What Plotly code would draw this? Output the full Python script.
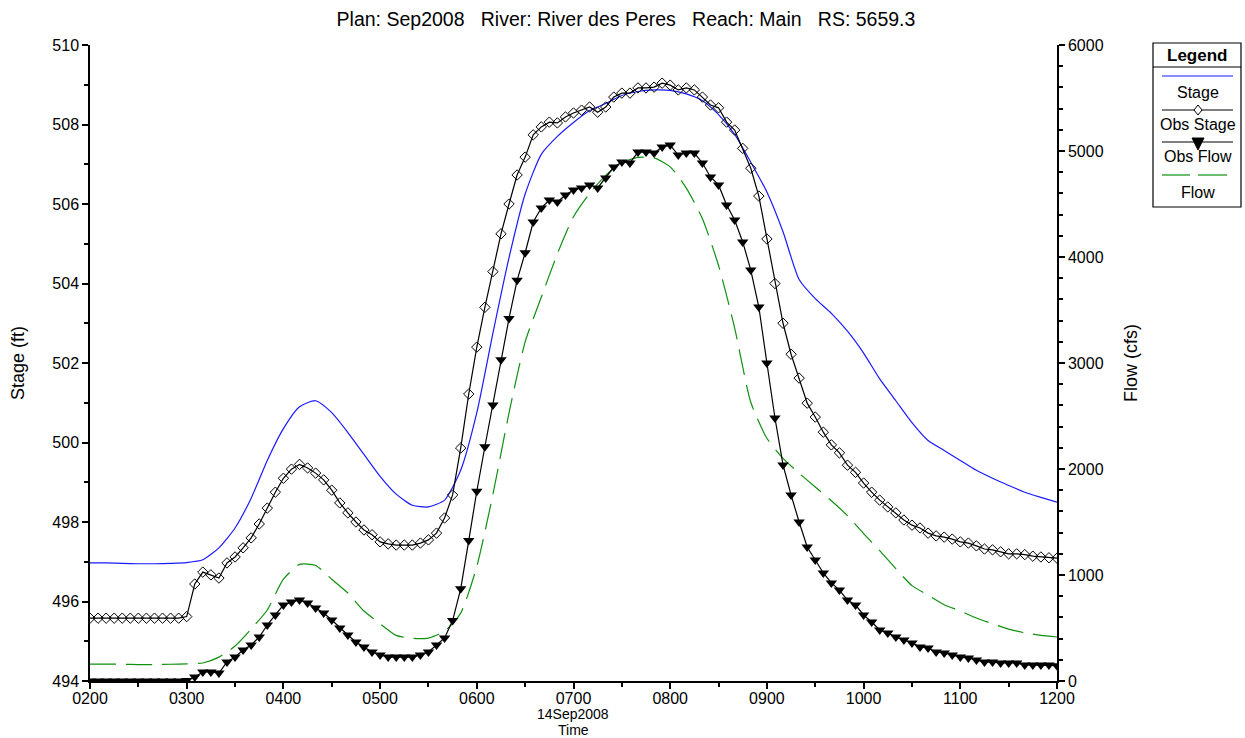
import pandas as pd
import plotly.graph_objects as go

# ---------------- data ----------------
obs_times = pd.date_range("2008-09-14 02:00", "2008-09-14 12:00", freq="5min")
sim_times = pd.date_range("2008-09-14 02:00", "2008-09-14 12:00", freq="10min")

obs_stage = [
    495.58, 495.58, 495.58, 495.58, 495.58, 495.58, 495.58, 495.58, 495.58, 495.58,
    495.58, 495.58, 495.62, 496.44, 496.74, 496.67, 496.59, 496.97, 497.12, 497.35,
    497.60, 497.95, 498.35, 498.75, 499.10, 499.33, 499.45, 499.36, 499.23, 499.06,
    498.80, 498.48, 498.23, 498.00, 497.80, 497.68, 497.50, 497.45, 497.42, 497.42,
    497.42, 497.47, 497.55, 497.72, 498.10, 498.68, 499.86, 501.22, 502.40, 503.40,
    504.30, 505.25, 506.00, 506.73, 507.18, 507.74, 507.94, 508.06, 508.04, 508.19,
    508.29, 508.36, 508.44, 508.31, 508.44, 508.69, 508.79, 508.79, 508.92, 508.92,
    508.94, 509.04, 508.99, 508.87, 508.92, 508.87, 508.69, 508.49, 508.42, 508.06,
    507.86, 507.40, 506.90, 506.20, 505.12, 504.00, 503.00, 502.22, 501.62, 500.99,
    500.64, 500.26, 499.94, 499.74, 499.43, 499.25, 498.98, 498.75, 498.55, 498.38,
    498.23, 498.05, 497.92, 497.85, 497.72, 497.65, 497.62, 497.57, 497.50, 497.47,
    497.40, 497.32, 497.30, 497.25, 497.20, 497.20, 497.18, 497.14, 497.12, 497.10,
    497.09,
]

obs_flow = [
    0, 0, 0, 0, 0, 0, 0, 0, 0, 0,
    0, 0, 5, 38, 85, 85, 75, 180, 226, 292,
    340, 415, 528, 623, 717, 745, 764, 736, 689, 641,
    575, 500, 434, 368, 321, 274, 245, 226, 226, 226,
    226, 245, 274, 340, 406, 570, 870, 1325, 1790, 2210,
    2604, 3030, 3420, 3780, 4040, 4330, 4462, 4538, 4519, 4585,
    4632, 4651, 4679, 4651, 4745, 4849, 4896, 4887, 4990, 4990,
    4981, 5038, 5056, 4962, 4981, 4981, 4887, 4755, 4680, 4490,
    4349, 4142, 3877, 3528, 3000, 2481, 2038, 1755, 1500, 1264,
    1141, 1019, 925, 858, 764, 717, 623, 557, 481, 453,
    415, 387, 358, 321, 311, 274, 264, 245, 226, 217,
    198, 179, 179, 170, 170, 170, 151, 151, 151, 151,
    145,
]

stage = [
    496.97, 496.97, 496.96, 496.95, 496.95, 496.96, 496.98, 497.05, 497.35, 497.85,
    498.60, 499.55, 500.35, 500.90, 501.05, 500.75, 500.25, 499.70, 499.15, 498.70,
    498.42, 498.38, 498.55, 499.30, 500.75, 502.75, 504.65, 506.25, 507.25, 507.70,
    508.05, 508.35, 508.53, 508.73, 508.83, 508.87, 508.86, 508.77, 508.60, 508.25,
    507.75, 507.05, 506.30, 505.30, 504.10, 503.62, 503.25, 502.80, 502.25, 501.60,
    501.05, 500.50, 500.05, 499.80, 499.55, 499.30, 499.10, 498.92, 498.75, 498.62,
    498.50,
]

flow = [
    160, 160, 158, 155, 155, 158, 162, 170, 225, 330,
    490, 670, 960, 1100, 1090, 960, 830, 660, 540, 430,
    402, 405, 470, 640, 1080, 1760, 2530, 3200, 3620, 4030,
    4380, 4600, 4770, 4890, 4940, 4935, 4850, 4650, 4360, 3920,
    3330, 2630, 2290, 2100, 1960, 1830, 1700, 1560, 1390, 1230,
    1060, 900, 810, 720, 660, 594, 540, 490, 455, 430,
    415,
]

NB = "\u00a0"
title_text = (f"Plan: Sep2008{NB*3}River: River des Peres{NB*3}"
              f"Reach: Main{NB*3}RS: 5659.3")
x_date_label = "14Sep2008"
x_title = "Time"
y_title = "Stage (ft)"
y2_title = "Flow (cfs)"
legend_names = ["Stage", "Obs Stage", "Obs Flow", "Flow"]

# ---------------- styles ----------------
FONT = "Liberation Sans, Arial, sans-serif"
BLUE = "#1a1aff"
GREEN = "#109010"

fig = go.Figure()

fig.add_trace(go.Scatter(x=sim_times, y=stage, name="Stage", mode="lines",
                         line=dict(color=BLUE, width=1.2, shape="spline", smoothing=0.6),
                         yaxis="y"))
fig.add_trace(go.Scatter(x=sim_times, y=flow, name="Flow", mode="lines",
                         line=dict(color=GREEN, width=1.2, dash="26px,10px",
                                   shape="spline", smoothing=0.6),
                         yaxis="y2"))
fig.add_trace(go.Scatter(x=obs_times, y=obs_stage, name="Obs Stage", mode="lines+markers",
                         line=dict(color="black", width=1.2),
                         marker=dict(symbol="diamond-open", size=8, color="black",
                                     line=dict(width=1, color="black")),
                         yaxis="y"))
fig.add_trace(go.Scatter(x=obs_times, y=obs_flow, name="Obs Flow", mode="lines+markers",
                         line=dict(color="black", width=1.2),
                         marker=dict(symbol="triangle-down", size=10, color="black"),
                         yaxis="y2"))

# ---------------- layout ----------------
L, R, T, B = 90, 1057, 45, 681
W, H = 1245, 738


def px(xp):
    return (xp - L) / (R - L)


def py(yp):
    return (B - yp) / (B - T)


axis_common = dict(
    ticks="outside", ticklen=6, tickwidth=1.5, tickcolor="black",
    showline=True, linecolor="black", linewidth=1.5,
    showgrid=False, zeroline=False, automargin=False,
    tickfont=dict(size=16, family=FONT, color="black"),
)

fig.update_layout(
    width=W, height=H,
    margin=dict(l=L, r=W - R, t=T, b=H - B, pad=0, autoexpand=False),
    paper_bgcolor="white", plot_bgcolor="white",
    showlegend=False,
    font=dict(family=FONT, size=16, color="black"),
    title=dict(text=title_text, x=626 / W, xref="container", xanchor="center",
               y=1 - 19 / H, yref="container", yanchor="middle",
               font=dict(family=FONT, size=19.5, color="black")),
    xaxis=dict(
        range=["2008-09-14 02:00", "2008-09-14 12:00"],
        type="date", dtick=3600000, tickformat="%H%M",
        ticklabelstandoff=-4,
        minor=dict(dtick=1800000, ticks="outside", ticklen=4, tickwidth=1.5, tickcolor="black"),
        **axis_common,
    ),
    yaxis=dict(
        range=[494, 510], dtick=2,
        minor=dict(dtick=1, ticks="outside", ticklen=4, tickwidth=1.5, tickcolor="black"),
        title=dict(text=y_title, font=dict(size=18), standoff=23),
        **axis_common,
    ),
    yaxis2=dict(
        range=[0, 6000], dtick=1000, overlaying="y", side="right", anchor="x",
        minor=dict(dtick=200, ticks="outside", ticklen=4, tickwidth=1.5, tickcolor="black"),
        title=dict(text=y2_title, font=dict(size=18), standoff=22),
        **axis_common,
    ),
)

# ---------------- x-axis title lines ----------------
annos = [
    dict(text=x_date_label, x=px(573), y=py(714), xref="paper", yref="paper",
         showarrow=False, xanchor="center", yanchor="middle", font=dict(size=14), borderpad=0),
    dict(text=x_title, x=px(573), y=py(730), xref="paper", yref="paper",
         showarrow=False, xanchor="center", yanchor="middle", font=dict(size=14), borderpad=0),
]

# ---------------- custom legend box ----------------
shapes = []
bx0, bx1, by0, by1 = 1153, 1241, 43, 207
shapes.append(dict(type="rect", xref="paper", yref="paper",
                   x0=px(bx0), x1=px(bx1), y0=py(by1), y1=py(by0),
                   line=dict(color="black", width=1.2), fillcolor="white"))
shapes.append(dict(type="line", xref="paper", yref="paper",
                   x0=px(bx0), x1=px(bx1), y0=py(67), y1=py(67),
                   line=dict(color="black", width=1.2)))
annos.append(dict(text="<b>Legend</b>", x=px(1197), y=py(55), xref="paper", yref="paper",
                  showarrow=False, xanchor="center", yanchor="middle",
                  font=dict(size=17, family=FONT)))

lx0, lx1, cx = 1162, 1233, 1198
label_y = [93, 125, 157, 192]
for name, ly in zip(legend_names, label_y):
    annos.append(dict(text=name, x=px(cx), y=py(ly), xref="paper", yref="paper",
                      showarrow=False, xanchor="center", yanchor="middle",
                      font=dict(size=16, family=FONT)))

# Stage sample
shapes.append(dict(type="line", xref="paper", yref="paper", x0=px(lx0), x1=px(lx1),
                   y0=py(76), y1=py(76), line=dict(color=BLUE, width=1.2)))
# Obs Stage sample
shapes.append(dict(type="line", xref="paper", yref="paper", x0=px(lx0), x1=px(lx1),
                   y0=py(110), y1=py(110), line=dict(color="black", width=1.2)))
shapes.append(dict(type="path", xref="paper", yref="paper",
                   path=f"M {px(cx)} {py(105)} L {px(cx + 4)} {py(110)} L {px(cx)} {py(115)} "
                        f"L {px(cx - 4)} {py(110)} Z",
                   line=dict(color="black", width=1), fillcolor="white"))
# Obs Flow sample
shapes.append(dict(type="line", xref="paper", yref="paper", x0=px(lx0), x1=px(lx1),
                   y0=py(142), y1=py(142), line=dict(color="black", width=1.2)))
shapes.append(dict(type="path", xref="paper", yref="paper",
                   path=f"M {px(cx - 6)} {py(138)} L {px(cx + 6)} {py(138)} L {px(cx)} {py(150)} Z",
                   line=dict(color="black", width=1), fillcolor="black"))
# Flow sample (dashed)
shapes.append(dict(type="line", xref="paper", yref="paper", x0=px(lx0), x1=px(1190),
                   y0=py(175), y1=py(175), line=dict(color=GREEN, width=1.2)))
shapes.append(dict(type="line", xref="paper", yref="paper", x0=px(1198), x1=px(1227),
                   y0=py(175), y1=py(175), line=dict(color=GREEN, width=1.2)))

fig.update_layout(shapes=shapes, annotations=annos)

fig.write_html("out.html", config={"displayModeBar": False},
               post_script="document.body.style.margin='0px';")
